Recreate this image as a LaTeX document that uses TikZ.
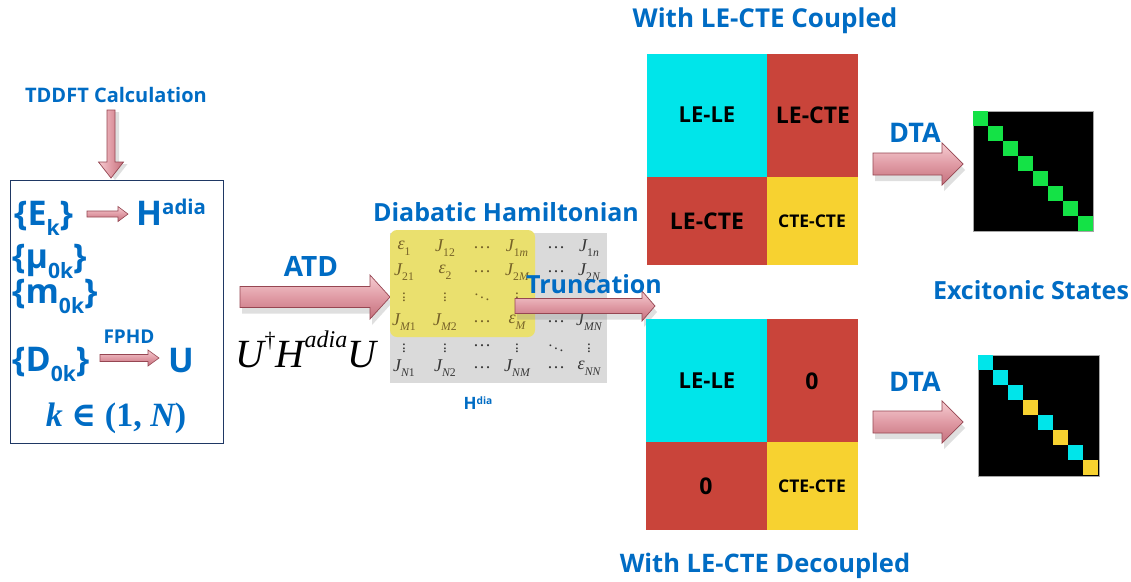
\documentclass[tikz,border=0pt]{standalone}
\usepackage{graphicx}
\usepackage{fontspec}
\setmainfont{Open Sans}
\newfontfamily\tnr{Liberation Serif}
\newfontfamily\djs{DejaVu Serif}
\usetikzlibrary{calc,shadows}
\definecolor{tblue}{RGB}{0,108,196}
\definecolor{cyanb}{RGB}{0,229,234}
\definecolor{redb}{RGB}{201,68,58}
\definecolor{yelb}{RGB}{247,210,48}
\definecolor{grnb}{RGB}{20,226,70}
\definecolor{pinkL}{RGB}{246,205,210}
\definecolor{pinkM}{RGB}{224,155,165}
\definecolor{pinkD}{RGB}{196,112,124}
\definecolor{pinkB}{RGB}{150,70,82}
\definecolor{navy}{RGB}{31,56,100}
\definecolor{matgray}{RGB}{218,218,218}
\definecolor{hlyel}{RGB}{234,224,110}
\definecolor{olive}{RGB}{118,98,40}
\definecolor{dgray}{RGB}{55,55,55}
\newcommand\sbs[1]{\raisebox{-0.3em}{\scalebox{0.62}{#1}}}
\newcommand\sps[1]{\raisebox{0.3em}{\scalebox{0.6}{#1}}}
% matrix entry: letter with subscript
\newcommand\mj[2]{{\itshape #1}\raisebox{-0.32em}{\scalebox{0.65}{#2}}}
\newcommand\vd{\scalebox{0.85}{$\vdots$}}
\newcommand\dd{\scalebox{0.85}{$\ddots$}}
\newcommand\hd{…}
\tikzset{
  lbl/.style={font=\bfseries\fontsize{25}{28}\selectfont, text=tblue, inner sep=0pt},
  boxtxt/.style={font=\bfseries\fontsize{34}{36}\selectfont, text=tblue, inner sep=0pt, anchor=base west},
  blk/.style={font=\bfseries\fontsize{22}{25}\selectfont, text=black, inner sep=0pt},
  blkm/.style={font=\bfseries\fontsize{23}{26}\selectfont, text=black, inner sep=0pt},
  blksmall/.style={font=\bfseries\fontsize{17.5}{20}\selectfont, text=black, inner sep=0pt},
  blockarrow/.style={draw=pinkB, line width=0.7pt, top color=pinkL, bottom color=pinkD, middle color=pinkM,
     drop shadow={opacity=0.25, shadow xshift=2pt, shadow yshift=-6pt, fill=gray}},
  vblockarrow/.style={draw=pinkB, line width=0.7pt, left color=pinkL, right color=pinkD, middle color=pinkM,
     drop shadow={opacity=0.25, shadow xshift=4pt, shadow yshift=-2pt, fill=gray}},
  smallarrow/.style={draw=pinkB, line width=0.6pt, top color=pinkL, bottom color=pinkD, middle color=pinkM},
  ment/.style={inner sep=0pt, font=\tnr\fontsize{18}{20}\selectfont},
  smat/.style={fill=black, draw=gray!70, line width=0.6pt},
}
% horizontal block arrow: style, start, end, shaft half, head half, head length
\newcommand\harrow[6]{%
  \path[#1] let \p1=(#2), \p2=(#3) in
    (\x1,\y1+#4) -- (\x2-#6,\y1+#4) -- (\x2-#6,\y1+#5) -- (\x2,\y1) --
    (\x2-#6,\y1-#5) -- (\x2-#6,\y1-#4) -- (\x1,\y1-#4) -- cycle;}
\newcommand\varrow[6]{%
  \path[#1] let \p1=(#2), \p2=(#3) in
    (\x1-#4,\y1) -- (\x1-#4,\y2+#6) -- (\x1-#5,\y2+#6) -- (\x1,\y2) --
    (\x1+#5,\y2+#6) -- (\x1+#4,\y2+#6) -- (\x1+#4,\y1) -- cycle;}
\begin{document}
\begin{tikzpicture}[x=1pt,y=-1pt]
\useasboundingbox[fill=white] (0,0) rectangle (1131,581);

% ---------- left: TDDFT and box ----------
\node[lbl, font=\bfseries\fontsize{20}{23}\selectfont] (tddft) at (116,95) {TDDFT Calculation};
\node[draw=navy, line width=1pt, minimum width=213pt, minimum height=263pt, anchor=north west, inner sep=0pt] (box) at (10,180) {};
\coordinate (vS) at (111,110);
\coordinate (vE) at (111,178);
\varrow{vblockarrow}{vS}{vE}{4pt}{12.5pt}{16pt}

\node[boxtxt] (ek) at (14,225) {\{E\sbs{k}\}};
\node[boxtxt] (hadia) at (136,225) {H\sps{adia}};
\node[boxtxt] (mu) at (12,268) {\{µ\sbs{0k}\}};
\node[boxtxt] (mk) at (12,303) {\{m\sbs{0k}\}};
\node[boxtxt] (dk) at (12,371) {\{D\sbs{0k}\}};
\node[boxtxt] (u) at (168,372) {U};
\node[lbl, font=\bfseries\fontsize{19}{21}\selectfont] (fphd) at (129,337) {FPHD};
\node[inner sep=0pt, text=tblue, font=\tnr\bfseries\fontsize{34}{36}\selectfont] (kin) at (116,418)
  {\itshape k\upshape\ {\djs ∈} (1, \itshape N\upshape)};
\coordinate (a1S) at (87,214);
\coordinate (a1E) at (128,214);
\harrow{smallarrow}{a1S}{a1E}{3pt}{7.5pt}{10pt}
\coordinate (a2S) at (100,358);
\coordinate (a2E) at (159,358);
\harrow{smallarrow}{a2S}{a2E}{3.5pt}{8pt}{11pt}

% ---------- ATD ----------
\node[lbl, font=\bfseries\fontsize{28}{31}\selectfont] (atd) at (311,266) {ATD};
\node[inner sep=0pt, font=\tnr\itshape\fontsize{40}{44}\selectfont] (uhu) at (306,349)
  {U\raisebox{0.48em}{\scalebox{0.55}{\upshape †}}H\raisebox{0.5em}{\scalebox{0.6}{adia}}U};
\coordinate (atdS) at (240,297);
\coordinate (atdE) at (390,297);
\harrow{blockarrow}{atdS}{atdE}{10.5pt}{22pt}{20pt}

% ---------- matrix ----------
\node[fill=matgray, minimum width=217pt, minimum height=150pt, anchor=north west, inner sep=0pt] (mat) at (390,233) {};
\fill[hlyel, rounded corners=7pt] (390,230) rectangle (535,337);
\node[lbl] (diab) at (506,212) {Diabatic Hamiltonian};
\node[lbl, font=\bfseries\fontsize{17}{19}\selectfont] (hdia) at (478,403) {H\raisebox{0.3em}{\scalebox{0.6}{dia}}};
\foreach \r/\y/\lst in {1/248/{\mj{ε}{1},\mj{J}{12},\hd,\mj{J}{1\itshape m},\hd,\mj{J}{1\itshape n}},
                       2/272/{\mj{J}{21},\mj{ε}{2},\hd,\mj{J}{2\itshape M},\hd,\mj{J}{2\itshape N}},
                       3/295/{\vd,\vd,\dd,\vd},
                       4/322/{\mj{J}{\itshape M\upshape 1},\mj{J}{\itshape M\upshape 2},\hd,\mj{ε}{\itshape M},\hd,\mj{J}{\itshape MN}},
                       5/346/{\vd,\vd,\hd,\vd,\dd,\vd},
                       6/368/{\mj{J}{\itshape N\upshape 1},\mj{J}{\itshape N\upshape 2},\hd,\mj{J}{\itshape NM},\hd,\mj{ε}{\itshape NN}}}{
  \foreach \e [count=\c] in \lst {
    \pgfmathsetmacro\xx{{0,404,445,482,517,556,589}[\c]}
    \pgfmathtruncatemacro\inyel{(\r<5)&&(\c<5)}
    \ifnum\inyel=1 \def\tc{olive}\else\def\tc{dgray}\fi
    \node[ment, text=\tc] (m\r\c) at (\xx,\y) {\e};
  }
}
\coordinate (trS) at (515,306);
\coordinate (trE) at (655,306);
\harrow{blockarrow}{trS}{trE}{7.5pt}{15pt}{13pt}
\node[lbl] (trunc) at (594,284) {Truncation};

% ---------- top blocks ----------
\node[lbl, font=\bfseries\fontsize{26}{29}\selectfont] (coupled) at (765,21) {With LE-CTE Coupled};
\fill[cyanb] (647,54) rectangle (767,177);
\fill[redb] (767,54) rectangle (858,177);
\fill[redb] (647,177) rectangle (767,265);
\fill[yelb] (767,177) rectangle (858,265);
\node[blk] (tll) at (707,115) {LE-LE};
\node[blkm] (tlr) at (813,115) {LE-CTE};
\node[blkm] (tbl) at (707,221) {LE-CTE};
\node[blksmall] (tbr) at (812,221) {CTE-CTE};
\node[lbl, font=\bfseries\fontsize{27}{30}\selectfont] (dta1) at (915,133) {DTA};
\coordinate (d1S) at (873,164);
\coordinate (d1E) at (963,164);
\harrow{blockarrow}{d1S}{d1E}{11pt}{21pt}{21pt}
\node[smat, minimum size=120pt, anchor=north west, inner sep=0pt] (st1) at (973,111) {};
\foreach \i in {0,...,7}
  \fill[grnb] ($(st1.north west)+(15*\i,15*\i)$) rectangle +(15,15);

\node[lbl] (exc) at (1031,290) {Excitonic States};

% ---------- bottom blocks ----------
\fill[cyanb] (646,319) rectangle (767,442);
\fill[redb] (767,319) rectangle (858,442);
\fill[redb] (646,442) rectangle (767,530);
\fill[yelb] (767,442) rectangle (858,530);
\node[blk] (bll) at (707,381) {LE-LE};
\node[blkm] (blr) at (812,381) {0};
\node[blkm] (bbl) at (706,486) {0};
\node[blksmall] (bbr) at (812,486) {CTE-CTE};
\node[lbl, font=\bfseries\fontsize{27}{30}\selectfont] (dta2) at (915,382) {DTA};
\coordinate (d2S) at (873,422);
\coordinate (d2E) at (963,422);
\harrow{blockarrow}{d2S}{d2E}{11pt}{21pt}{21pt}
\node[smat, minimum size=121pt, anchor=north west, inner sep=0pt] (st2) at (978,355) {};
\foreach \i/\cc in {0/cyanb,1/cyanb,2/cyanb,3/yelb,4/cyanb,5/yelb,6/cyanb,7/yelb}
  \fill[\cc] ($(st2.north west)+(15*\i,15*\i)$) rectangle +(15,15);
\node[lbl, font=\bfseries\fontsize{25.5}{28}\selectfont] (decoupled) at (765,566) {With LE-CTE Decoupled};
\end{tikzpicture}
\end{document}
